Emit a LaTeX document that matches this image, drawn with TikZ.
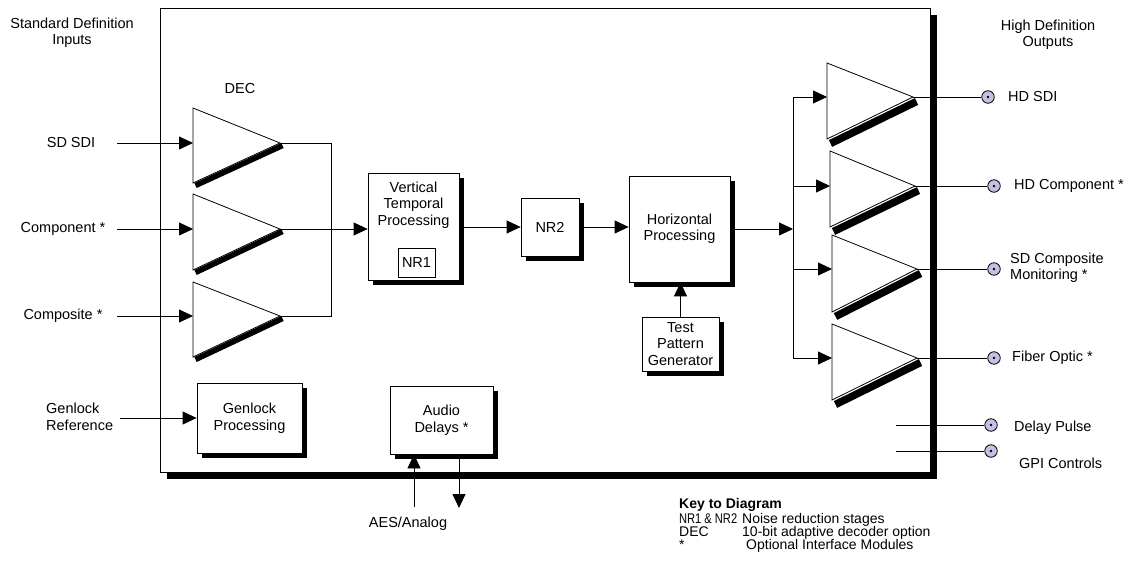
\documentclass[tikz,border=0pt]{standalone}
\usepackage{fontspec}
\setmainfont{Liberation Sans}
\usetikzlibrary{arrows.meta,shadows,calc}
\definecolor{lav}{RGB}{200,190,226}
\newcommand\amptri[9]{%
  \coordinate (#1-tl) at (#2,#3);
  \coordinate (#1-bl) at (#2,#4);
  \coordinate (#1-tip) at (#5,#6);
  \coordinate (#1-in) at (#2,#6);
  \draw[line width=#7] ($(#1-bl)+(#8,#9)$) -- ($(#1-tip)+(#8,#9)$);
  \draw[ln,fill=white] (#1-tl) -- (#1-tip) -- (#1-bl) -- cycle;}
\begin{document}
\begin{tikzpicture}[x=1pt,y=-1pt,
  ln/.style={line width=0.8pt},
  arr/.style={-{Triangle[length=14pt,width=13pt]}},
  txt/.style={font=\fontsize{14.5}{16.5}\selectfont,align=center,inner sep=0pt},
  keyt/.style={font=\fontsize{14}{14}\selectfont,inner sep=0pt},
  box/.style={draw,ln,fill=white,txt,drop shadow={shadow xshift=4.5pt,shadow yshift=-5pt,opacity=1,fill=black}},
  conn/.style={circle,draw,ln,fill=lav,minimum size=12.5pt,inner sep=0pt}]
\useasboundingbox (0,0) rectangle (1127,561);
\fill[white] (0,0) rectangle (1127,561);

% main enclosure with shadow
\fill[black] (167,15) rectangle (937,479);
\draw[ln,fill=white] (160,8) rectangle (930,472);

% headings
\node[txt] (sdin) at (72,33) {Standard Definition\\Inputs};
\node[txt] (hdout) at (1048,35) {High Definition\\Outputs};
\node[txt] (dec) at (240,89) {DEC};

% decoder amplifiers
\amptri{d1}{193}{108}{183}{280}{143}{5.5pt}{2.5}{2.5}
\amptri{d2}{193}{194}{270}{280}{229}{5.5pt}{2.5}{2.5}
\amptri{d3}{193}{282}{357}{280}{316}{5.5pt}{2.5}{2.5}

% inputs
\node[txt] (sdsdi) at (71,143) {SD SDI};
\node[txt] (comp) at (63,229) {Component *};
\node[txt] (cps) at (63,316) {Composite *};
\coordinate (i1) at (117,143);
\coordinate (i2) at (117,229);
\coordinate (i3) at (117,316);
\draw[ln,arr] (i1) -- (d1-in);
\draw[ln,arr] (i2) -- (d2-in);
\draw[ln,arr] (i3) -- (d3-in);

% processing boxes
\node[box,minimum width=91pt,minimum height=107pt] (vtp) at (413.5,227) {};
\node[txt] (vtpt) at (413.5,205) {Vertical\\Temporal\\Processing};
\node[draw,ln,txt,minimum width=37pt,minimum height=29pt] (nr1) at (416.5,262.5) {NR1};
\node[box,minimum width=58pt,minimum height=58pt] (nr2) at (550,227) {NR2};
\node[box,minimum width=101pt,minimum height=106pt] (hp) at (679.5,229) {Horizontal\\Processing};
\node[box,minimum width=77pt,minimum height=54pt] (tpg) at (680.5,344) {Test\\Pattern\\Generator};

\coordinate (j1) at (331,143);
\coordinate (j3) at (331,316);
\draw[ln] (d1-tip) -- (j1) -- (j3) -- (d3-tip);
\draw[ln,arr] (d2-tip) -- (d2-tip -| vtp.west);
\draw[ln,arr] (vtp.east) -- (vtp.east -| nr2.west);
\draw[ln,arr] (nr2.east) -- (nr2.east -| hp.west);
\draw[ln,arr] (tpg.north) -- (tpg.north |- hp.south);

% output distribution
\coordinate (busc) at (793,229);
\coordinate (bust) at (793,97);
\coordinate (busb) at (793,358);
\draw[ln,arr] (hp.east) -- (busc);
\draw[ln] (bust) -- (busb);

\amptri{o1}{827}{63}{139}{913}{97}{7.5pt}{3.5}{4.5}
\amptri{o2}{830}{151}{227}{915}{186}{7.5pt}{3.5}{4.5}
\amptri{o3}{832}{235}{312}{917}{269}{7.5pt}{3.5}{4.5}
\amptri{o4}{832}{324}{400}{917}{358}{7.5pt}{3.5}{4.5}

\draw[ln,arr] (bust) -- (o1-in);
\draw[ln,arr] (bust |- o2-in) -- (o2-in);
\draw[ln,arr] (bust |- o3-in) -- (o3-in);
\draw[ln,arr] (bust |- o4-in) -- (o4-in);

% connectors
\node[conn] (c1) at (988,97) {};
\node[conn] (c2) at (994,186) {};
\node[conn] (c3) at (994,269) {};
\node[conn] (c4) at (994,358) {};
\node[conn] (c5) at (991,425) {};
\node[conn] (c6) at (991,451) {};
\foreach \c in {c1,c2,c3,c4,c5,c6} \fill (\c) circle (1.3pt);
\draw[ln] (o1-tip) -- (c1);
\draw[ln] (o2-tip) -- (c2);
\draw[ln] (o3-tip) -- (c3);
\draw[ln] (o4-tip) -- (c4);
\coordinate (dp) at (896,425);
\coordinate (gp) at (896,451);
\draw[ln] (dp) -- (c5);
\draw[ln] (gp) -- (c6);

\node[txt,anchor=west] (l1) at (1008,97) {HD SDI};
\node[txt,anchor=west] (l2) at (1014,186) {HD Component *};
\node[txt,anchor=west,align=left] (l3) at (1010,268) {SD Composite\\Monitoring *};
\node[txt,anchor=west] (l4) at (1012,358) {Fiber Optic *};
\node[txt,anchor=west] (l5) at (1014,428) {Delay Pulse};
\node[txt,anchor=west] (l6) at (1019,463) {GPI Controls};

% genlock
\node[box,minimum width=105pt,minimum height=70pt] (gen) at (249.5,418) {Genlock\\Processing};
\node[txt,anchor=west,align=left] (genref) at (46,417) {Genlock\\Reference};
\coordinate (gr) at (120,418);
\draw[ln,arr] (gr) -- (gen.west);

% audio
\node[box,minimum width=103pt,minimum height=68pt] (aud) at (441.5,420) {Audio\\Delays *};
\coordinate (ain) at (414,507);
\coordinate (aout) at (459,508);
\draw[ln,arr] (ain) -- (ain |- aud.south);
\draw[ln,arr] ($(aud.south -| aout)+(0,5)$) -- (aout);
\node[txt] (aes) at (408,524) {AES/Analog};

% key
\node[keyt,anchor=base west] (k0) at (679,508) {\bfseries Key to Diagram};
\node[keyt,anchor=base west] (k1) at (679,523) {\resizebox{58pt}{\height}{NR1 \& NR2}};
\node[keyt,anchor=base west] (k1b) at (742,523) {Noise reduction stages};
\node[keyt,anchor=base west] (k2) at (679,536) {DEC};
\node[keyt,anchor=base west] (k2b) at (742,536) {10-bit adaptive decoder option};
\node[keyt,anchor=base west] (k3) at (679,549) {*};
\node[keyt,anchor=base west] (k3b) at (746,549) {Optional Interface Modules};
\end{tikzpicture}
\end{document}
